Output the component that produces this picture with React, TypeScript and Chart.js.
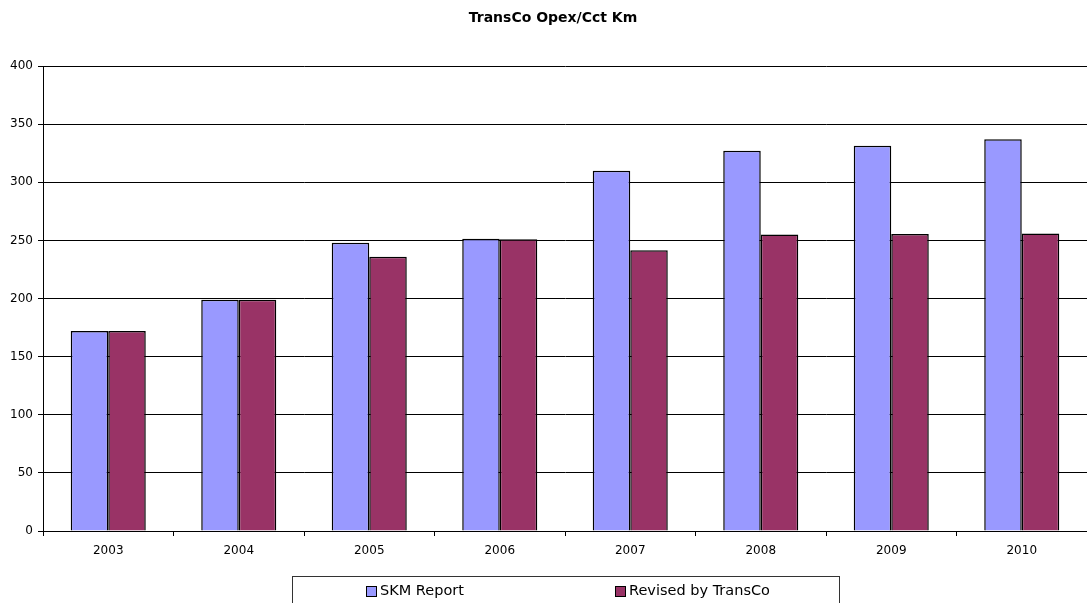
import React, { useEffect, useRef } from "react";
import { Chart, registerables } from "chart.js";

Chart.register(...registerables);

const categories = ["2003", "2004", "2005", "2006", "2007", "2008", "2009", "2010"];
const skmReport = [172, 199, 248, 251.5, 310, 327, 331.5, 337];
const revisedByTransCo = [172, 199, 236, 251, 241.5, 255, 255.5, 256];
const seriesLabels = ["SKM Report", "Revised by TransCo"];
const seriesColors = ["#9999FF", "#993366"];
const titleText = "TransCo Opex/Cct Km";
const yMin = 0;
const yMax = 400;
const yStep = 50;

const W = 1087;
const H = 603;

const titlePlugin = {
  id: "customTitle",
  afterDraw(chart: any) {
    const ctx = chart.ctx;
    ctx.save();
    ctx.fillStyle = "#000";
    ctx.font = "bold 14px 'DejaVu Sans'";
    ctx.textAlign = "center";
    ctx.textBaseline = "alphabetic";
    ctx.fillText(titleText, 553, 22);
    ctx.restore();
  },
};

const legendPlugin = {
  id: "customLegend",
  afterDraw(chart: any) {
    const ctx = chart.ctx;
    ctx.save();
    ctx.strokeStyle = "#333";
    ctx.lineWidth = 1;
    ctx.strokeRect(292.5, 576.5, 547, 40);
    const xs = [366, 615];
    ctx.font = "14.5px 'DejaVu Sans'";
    ctx.textBaseline = "middle";
    ctx.textAlign = "left";
    chart.data.datasets.forEach((ds: any, i: number) => {
      const x = xs[i];
      ctx.fillStyle = ds.backgroundColor;
      ctx.fillRect(x, 586, 10, 10);
      ctx.strokeStyle = "#000";
      ctx.strokeRect(x + 0.5, 586.5, 10, 10);
      ctx.fillStyle = "#000";
      ctx.fillText(ds.label, x + 14, 591);
    });
    ctx.restore();
  },
};

export default function App() {
  const ref = useRef<HTMLCanvasElement>(null);
  useEffect(() => {
    if (!ref.current) return;
    const chart = new Chart(ref.current, {
      type: "bar",
      data: {
        labels: categories,
        datasets: [
          {
            label: seriesLabels[0],
            data: skmReport,
            backgroundColor: seriesColors[0],
            borderColor: "#000",
            borderWidth: 1.5,
            categoryPercentage: 0.575,
            barPercentage: 1,
          },
          {
            label: seriesLabels[1],
            data: revisedByTransCo,
            backgroundColor: seriesColors[1],
            borderColor: "#000",
            borderWidth: 1.5,
            categoryPercentage: 0.575,
            barPercentage: 1,
          },
        ],
      },
      options: {
        responsive: false,
        animation: false,
        devicePixelRatio: 1,
        layout: { padding: { top: 66, left: 0, right: 0, bottom: 0 } },
        plugins: {
          legend: { display: false },
          title: { display: false },
          tooltip: { enabled: false },
        },
        scales: {
          x: {
            grid: {
              offset: true,
              drawOnChartArea: false,
              drawTicks: true,
              tickLength: 5,
              color: "#000",
            },
            border: { color: "#000", width: 1 },
            ticks: {
              color: "#000",
              font: { family: "'DejaVu Sans'", size: 12 },
              padding: 8,
              maxRotation: 0,
            },
            afterFit: (s: any) => {
              s.height = 72;
            },
          },
          y: {
            min: yMin,
            max: yMax,
            ticks: {
              stepSize: yStep,
              color: "#000",
              font: { family: "'DejaVu Sans'", size: 12 },
              padding: 5,
            },
            grid: {
              color: "#000",
              drawTicks: true,
              tickLength: 5,
            },
            border: { color: "#000", width: 1 },
            afterFit: (s: any) => {
              s.width = 43;
            },
          },
        },
      },
      plugins: [titlePlugin, legendPlugin],
    });
    return () => chart.destroy();
  }, []);
  return (
    <div style={{ position: "absolute", left: 0, top: 0, width: W, height: H, background: "#fff" }}>
      <canvas ref={ref} width={W} height={H} style={{ display: "block" }} />
    </div>
  );
}
